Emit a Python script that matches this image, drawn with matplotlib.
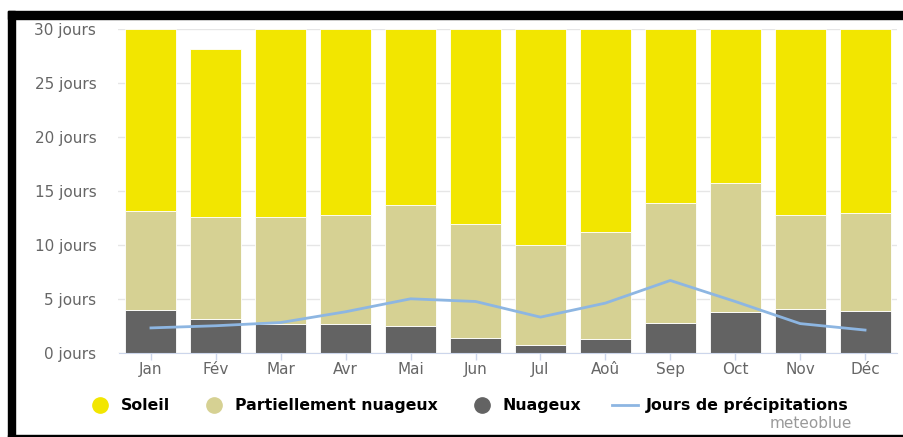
import matplotlib
matplotlib.use("Agg")
import matplotlib.pyplot as plt
from matplotlib.lines import Line2D
from matplotlib.patches import Rectangle
import numpy as np

plt.rcParams['font.family'] = ['DejaVu Sans']

# donnees (jours par mois)
mois = ["Jan", "Fév", "Mar", "Avr", "Mai", "Jun", "Jul", "Aoû", "Sep", "Oct", "Nov", "Déc"]
nuageux = [4.0, 3.1, 2.7, 2.7, 2.5, 1.4, 0.75, 1.3, 2.8, 3.8, 4.1, 3.9]
partiel = [9.1, 9.5, 9.9, 10.1, 11.2, 10.5, 9.2, 9.9, 11.1, 11.9, 8.7, 9.1]
soleil = [16.9, 15.6, 17.4, 17.2, 16.3, 18.1, 20.05, 18.8, 16.1, 14.3, 17.2, 17.0]
precip = [2.3, 2.5, 2.8, 3.8, 5.0, 4.75, 3.3, 4.6, 6.7, 4.75, 2.7, 2.1]
yticks = [0, 5, 10, 15, 20, 25, 30]

c_soleil = "#f2e600"
c_partiel = "#d6d193"
c_nuageux = "#636363"
c_precip = "#8db6e2"

W, H = 904, 437
fig = plt.figure(figsize=(W / 100, H / 100), dpi=100)
ax = fig.add_axes([118.5 / W, 84.3 / H, 779 / W, 323.4 / H])

x = np.arange(len(mois))
larg = 0.785
b1 = np.array(nuageux)
b2 = b1 + np.array(partiel)
ax.bar(x, nuageux, width=larg, color=c_nuageux, edgecolor="white", linewidth=0.6, zorder=2)
ax.bar(x, partiel, width=larg, bottom=b1, color=c_partiel, edgecolor="white", linewidth=0.6, zorder=2)
ax.bar(x, soleil, width=larg, bottom=b2, color=c_soleil, edgecolor="white", linewidth=0.6, zorder=2)
ax.plot(x, precip, color=c_precip, linewidth=2, zorder=3)

ax.set_xlim(-0.5, len(mois) - 0.5)
ax.set_ylim(0, 30)
ax.set_yticks(yticks)
ax.set_yticklabels([f"{v} jours" for v in yticks])
ax.set_xticks(x)
ax.set_xticklabels(mois)
ax.grid(axis="y", color="#e6e6e6", linewidth=1, zorder=0)
for s in ["top", "right", "left"]:
    ax.spines[s].set_visible(False)
ax.spines["bottom"].set_color("#ccd6eb")
ax.tick_params(axis="y", length=0, pad=16, labelsize=11, labelcolor="#666666")
ax.tick_params(axis="x", length=5, width=1, color="#ccd6eb", pad=1.5, labelsize=11, labelcolor="#666666")

handles = [
    Line2D([], [], marker="o", linestyle="none", markersize=11, color=c_soleil),
    Line2D([], [], marker="o", linestyle="none", markersize=11, color=c_partiel),
    Line2D([], [], marker="o", linestyle="none", markersize=11, color=c_nuageux),
    Line2D([], [], color=c_precip, linewidth=2),
]
labels = ["Soleil", "Partiellement nuageux", "Nuageux", "Jours de précipitations"]
fig.legend(handles, labels, ncol=4, frameon=False, loc="center",
           bbox_to_anchor=(468 / W, 1 - 405 / H), prop={"weight": "bold", "size": 11.3},
           handlelength=1.6, handletextpad=0.53, columnspacing=2.0)
fig.text(852 / W, 1 - 424 / H, "meteoblue", ha="right", va="center", fontsize=11, color="#999999")

# cadre noir autour de l'image
fig.patches.append(Rectangle((8 / W, 0), 7 / W, 1 - 11 / H, transform=fig.transFigure, color="black"))
fig.patches.append(Rectangle((8 / W, 1 - 19 / H), 1, 8 / H, transform=fig.transFigure, color="black"))
fig.patches.append(Rectangle((8 / W, 0), 1, 2 / H, transform=fig.transFigure, color="black"))

fig.savefig("out.png", dpi=100)
